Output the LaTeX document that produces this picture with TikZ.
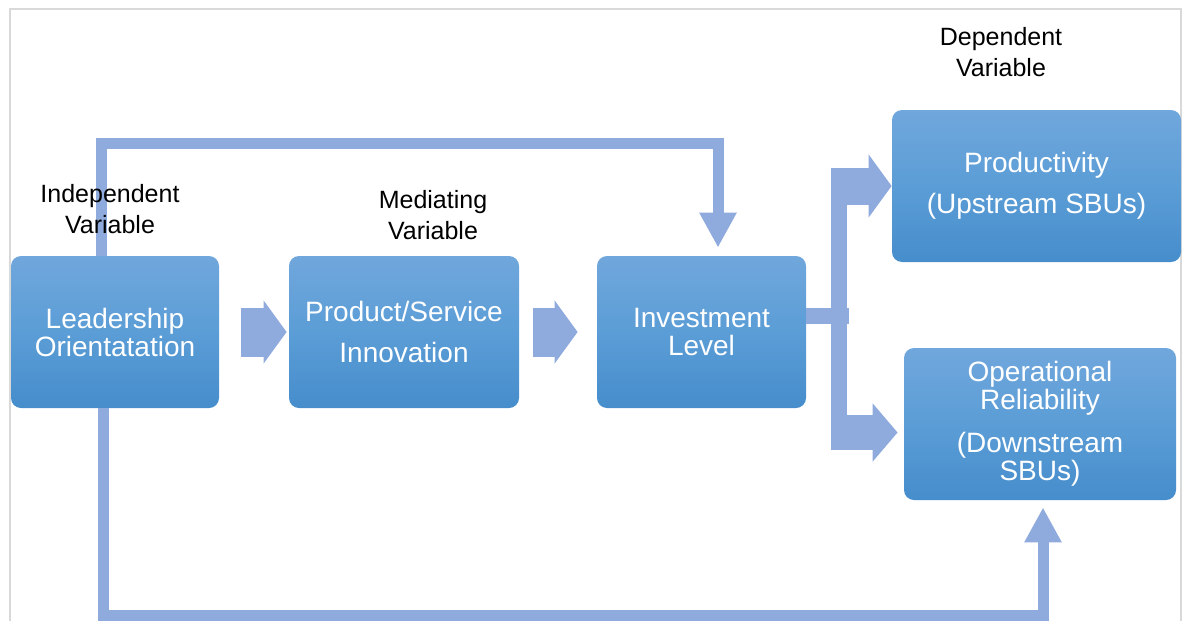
\documentclass[tikz,border=0pt]{standalone}
\usepackage{fontspec}
\setmainfont{Liberation Sans}
\usetikzlibrary{arrows.meta}

\definecolor{boxtop}{HTML}{70A7DC}
\definecolor{boxmid}{HTML}{5B9DD6}
\definecolor{boxbot}{HTML}{468DCC}
\definecolor{arrowblue}{HTML}{8FAADC}
\definecolor{framegray}{HTML}{D9D9D9}

\tikzset{
  varbox/.style={rounded corners=5pt, top color=boxtop, bottom color=boxbot,
    middle color=boxmid, text=white, align=center, inner sep=0pt,
    minimum height=76pt, font=\fontsize{14}{14}\selectfont},
  varlabel/.style={align=center, inner sep=0pt, font=\fontsize{12.5}{15.5}\selectfont},
  link/.style={draw=arrowblue, line width=5.5pt, -{Triangle[width=17.5pt,length=17.5pt]}},
  blockarrow/.style={draw=arrowblue, line width=24.5pt, -{Triangle[width=31pt,length=11.5pt]}},
  fork/.style={draw=arrowblue, line width=8pt}
}

\begin{document}
\begin{tikzpicture}[x=0.5pt,y=-0.5pt]
				\useasboundingbox (0,0) rectangle (1182,621);
				\draw[framegray, line width=0.75pt] (10,621) -- (10,9) -- (1181,9) -- (1181,621);
				% boxes
				\node[varbox, minimum width=104pt] (lead) at (115,332) {Leadership\\Orientatation};
				\node[varbox, minimum width=115pt] (innov) at (404,332) {Product/Service\\[6.5pt]Innovation};
				\node[varbox, minimum width=104.5pt] (invest) at (701.5,332) {Investment\\Level};
				\node[varbox, minimum width=144.5pt] (prodty) at (1036.5,186) {Productivity\\[6.5pt](Upstream SBUs)};
				\node[varbox, minimum width=136pt] (reliab) at (1040,424) {Operational\\Reliability\\[7.5pt](Downstream\\SBUs)};
				% main chain
				\draw[blockarrow, shorten <=11pt, shorten >=1pt] (lead.east) -- (innov.west);
				\draw[blockarrow, shorten <=7pt, shorten >=9.5pt] (innov.east) -- (invest.west);
				% direct paths
				\coordinate (topleft) at (101,143.5);
				\draw[link, shorten >=4pt] (lead.north -| topleft) -- (topleft) -| ([xshift=8.25pt]invest.north);
				\coordinate (botleft) at (103,615);
				\draw[link, shorten >=3.5pt] (lead.south -| botleft) -- (botleft) -| ([xshift=1.5pt]reliab.south);
				% fork to the outcomes
				\coordinate (forkup) at (839,167.5);
				\coordinate (forkdown) at (839,450);
				\coordinate (lowbranch) at (839,432.5);
				\draw[fork] ([yshift=8pt]invest.east) -- ++(43,0);
				\draw[fork] (forkup) -- (forkdown);
				\draw[draw=arrowblue, line width=18.5pt, -{Triangle[width=31pt,length=11.5pt]}] (forkup |- prodty.west) -- (prodty.west);
				\draw[draw=arrowblue, line width=17.5pt, -{Triangle[width=28.5pt,length=12.5pt]}, shorten >=3pt] (lowbranch) -- (lowbranch -| reliab.west);
				% labels
				\node[varlabel] (indep) at (110,209) {Independent\\Variable};
				\node[varlabel] (medi) at (433,215) {Mediating\\Variable};
				\node[varlabel] (dep) at (1001,52) {Dependent\\Variable};
		\end{tikzpicture}
\end{document}
